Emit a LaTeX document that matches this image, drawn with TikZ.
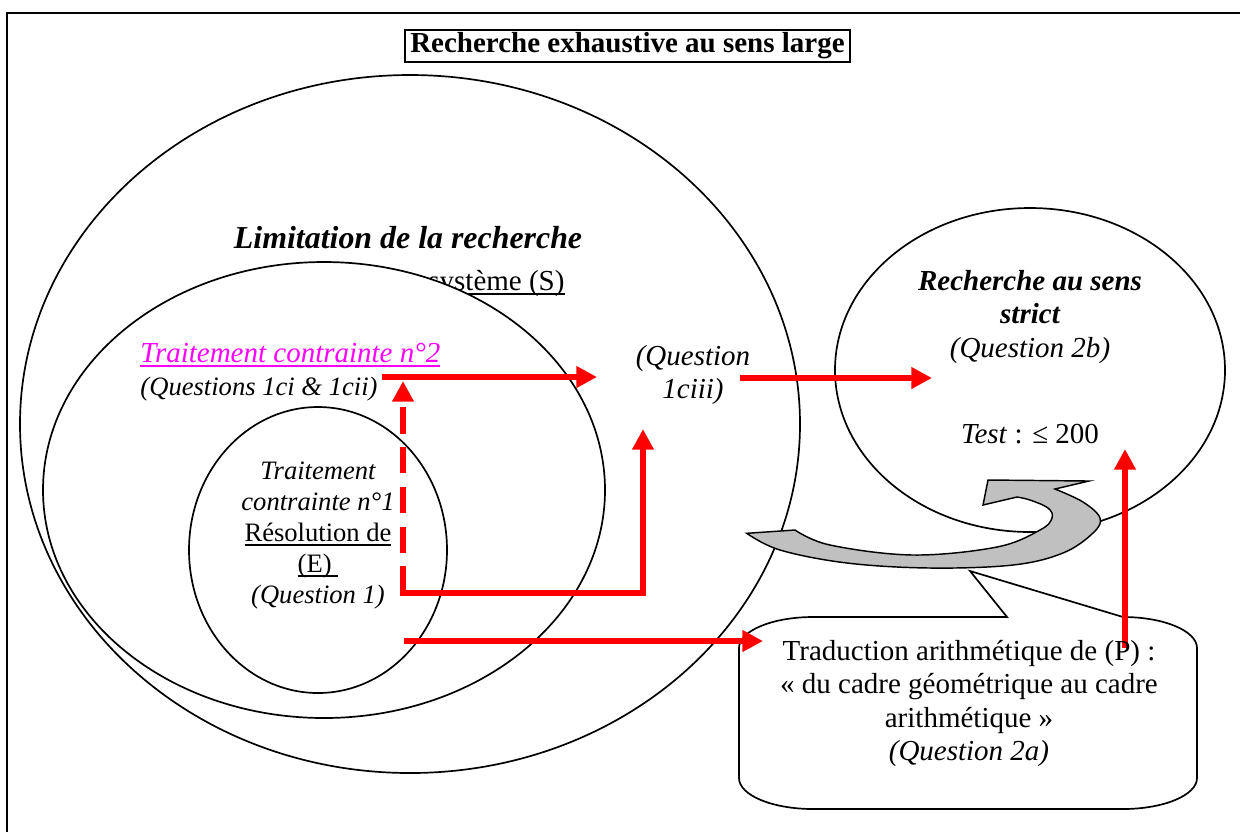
\documentclass[tikz,border=0pt]{standalone}
\usepackage{fontspec}
\setmainfont{Liberation Serif}
\usetikzlibrary{arrows.meta}
\definecolor{arrowgray}{RGB}{192,192,192}
\definecolor{brightmagenta}{RGB}{255,0,255}
\definecolor{pureRed}{RGB}{255,0,0}
\newcommand\myul[2][black]{\setbox0\hbox{#2}\rlap{\color{#1}\rule[-2.1pt]{\wd0}{0.7pt}}\box0}
\tikzset{
  lbl/.style={inner sep=0pt, anchor=base},
  twelve/.style={font=\fontsize{12}{13.8}\selectfont},
  eleven/.style={font=\fontsize{11}{12.6}\selectfont},
  shapeline/.style={line width=0.7pt, draw=black},
  redarrow/.style={draw=pureRed, line width=2.7pt, -{Triangle[length=8.5pt,width=8.5pt]}},
}
\begin{document}
\begin{tikzpicture}[x=0.41379pt, y=-0.41379pt]
\useasboundingbox (0,0) rectangle (1240,832);
% frame (top and left edges visible)
\coordinate (fr1) at (7,832);
\coordinate (fr2) at (7,13);
\coordinate (fr3) at (1240,13);
\draw[line width=1pt] (fr1) -- (fr2) -- (fr3);
% title
\node[draw, line width=0.8pt, inner sep=0pt, minimum width=184pt, minimum height=13.3pt,
      font=\bfseries\fontsize{12}{14}\selectfont] (title) at (627.5,46) {Recherche exhaustive au sens large};
% big ellipse
\draw[shapeline, fill=white] (410,424) ellipse [x radius=390, y radius=349];
\node[lbl, font=\bfseries\itshape\fontsize{13.2}{15}\selectfont] (limit) at (408,248) {Limitation de la recherche};
\node[lbl, twelve, anchor=base east] (sys) at (565,290) {\myul{système (S)}};
% ellipse S
\draw[shapeline, fill=white] (324,490) ellipse [x radius=281, y radius=228];
% inner ellipse
\draw[shapeline] (318,550) ellipse [x radius=129, y radius=143];
% right ellipse
\draw[shapeline] (1030,370) ellipse [x radius=195, y radius=162];
% callout
\draw[shapeline, fill=white]
  (813,617) -- (1007,617) -- (970,571) -- (1123,617)
  arc[start angle=270, end angle=360, x radius=74, y radius=31]
  -- (1197,778)
  arc[start angle=0, end angle=90, x radius=74, y radius=31]
  -- (813,809)
  arc[start angle=90, end angle=180, x radius=74, y radius=31]
  -- (739,648)
  arc[start angle=180, end angle=270, x radius=74, y radius=31]
  -- cycle;
% gray curved arrow
\filldraw[fill=arrowgray, draw=black, line width=0.6pt]
  (746.7,533.3) -- plot[smooth, tension=0.6] coordinates {(795,530) (830,545) (913,555) (997,547) (1040,530) (1052,518) (1048,508) (1030,500) (1017,497)}
  -- (983,505) -- (988,480) -- (1089,481) -- (1055,489)
  -- plot[smooth, tension=0.6] coordinates {(1055,489) (1083,502) (1100,518) (1093,533) (1063,553) (1013,565) (930,568) (847,563) (780,550) (746.7,533.3)}
  -- cycle;
% texts inside S
\node[lbl, twelve, anchor=base west, text=brightmagenta] (tc2) at (140,362) {\itshape\myul[brightmagenta]{Traitement contrainte n°2}};
\node[lbl, eleven, anchor=base west] (q1c) at (140,395) {\itshape (Questions 1ci \& 1cii)};
% inner ellipse texts
\node[lbl, eleven] (t1a) at (318,479) {\itshape Traitement};
\node[lbl, eleven] (t1b) at (318,510) {\itshape contrainte n°1};
\node[lbl, eleven] (t1c) at (318,541) {\myul{Résolution de}};
\node[lbl, eleven] (t1d) at (318,572) {\myul{(E)\ }};
\node[lbl, eleven] (t1e) at (318,603) {\itshape (Question 1)};
% middle
\node[lbl, twelve] (q3a) at (693,365) {\itshape (Question};
\node[lbl, twelve] (q3b) at (693,398) {\itshape 1ciii)};
% right ellipse texts
\node[lbl, twelve] (rs1) at (1030,290) {\bfseries\itshape Recherche au sens};
\node[lbl, twelve] (rs2) at (1030,323) {\bfseries\itshape strict};
\node[lbl, twelve] (rs3) at (1030,357) {\itshape (Question 2b)};
\node[lbl, twelve] (test) at (1030,443) {\textit{Test} : ≤ 200};
% red arrows
\coordinate (a1s) at (382,377);
\coordinate (a1e) at (597,377);
\coordinate (cor) at (403,593);
\coordinate (a2e) at (403,381);
\coordinate (cor2) at (643,593);
\coordinate (a3e) at (643,429);
\coordinate (a4s) at (740,378);
\coordinate (a4e) at (932,378);
\coordinate (a5s) at (404,641);
\coordinate (a5e) at (763,641);
\coordinate (a6s) at (1125,648);
\coordinate (a6e) at (1125,449);
\draw[redarrow] (a1s) -- (a1e);
\draw[redarrow, dash pattern=on 11pt off 5.5pt] (cor) -- (a2e);
\draw[redarrow, line join=miter] ([xshift=-1.35pt]cor) -- (cor2) -- (a3e);
\draw[redarrow] (a4s) -- (a4e);
\draw[redarrow] (a5s) -- (a5e);
\draw[redarrow] (a6s) -- (a6e);
% callout texts
\node[lbl, twelve] (c1) at (969,660) {Traduction arithmétique de (P) :};
\node[lbl, twelve] (c2) at (969,693) {« du cadre géométrique au cadre};
\node[lbl, twelve] (c3) at (969,727) {arithmétique »};
\node[lbl, twelve] (c4) at (969,760) {\itshape (Question 2a)};
\end{tikzpicture}
\end{document}
